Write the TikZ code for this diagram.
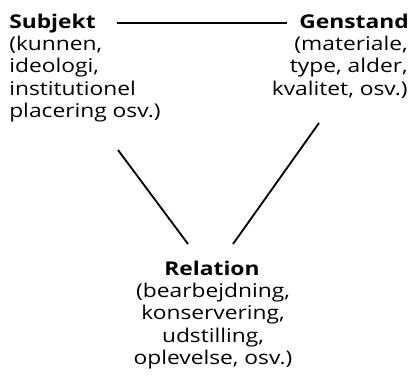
\documentclass[tikz,border=0pt]{standalone}
\usepackage{fontspec}
\setmainfont[FakeStretch=1.2]{Open Sans}
\usetikzlibrary{calc}

\begin{document}
\begin{tikzpicture}[x=0.025cm, y=-0.025cm,
		every node/.style={inner sep=0pt, font=\fontsize{13.5}{16}\selectfont},
		lnk/.style={line width=1.3pt}]
		\useasboundingbox (0,0) rectangle (415,376);
		\node[anchor=base west] (subj) at (9,28){\textbf{Subjekt}};
		\node[anchor=base east] (gen) at (409,28){\textbf{Genstand}};
		\node[anchor=base west] (subjtxt) at (9,50){\begin{tabular}[t]{@{}l@{}}
			(kunnen,\\
			ideologi,\\
			institutionel\\
			placering osv.)
			\end{tabular}};
		\node[anchor=base east] (gentxt) at (408,50){\begin{tabular}[t]{@{}r@{}}
			(materiale,\\
			type, alder,\\
			kvalitet, osv.)
			\end{tabular}};
		\node[anchor=base] (rel) at (212,275){\textbf{Relation}};
		\node[anchor=base] (reltxt) at (213,297){\begin{tabular}[t]{@{}c@{}}
			(bearbejdning,\\
			konservering,\\
			udstilling,\\
			oplevelse, osv.)
			\end{tabular}};
		% ends of the two slanted lines
		\coordinate (sl) at (118,150);
		\coordinate (sr) at (319,123);
		\coordinate (rl) at (188,244);
		\coordinate (rr) at (233,244);
		\draw[lnk] ([xshift=0.52cm]subj.east) -- ([xshift=-0.3cm]subj.east -| gen.west);
		\draw[lnk] (sl) -- (rl);
		\draw[lnk] (sr) -- (rr);
	\end{tikzpicture}
\end{document}
